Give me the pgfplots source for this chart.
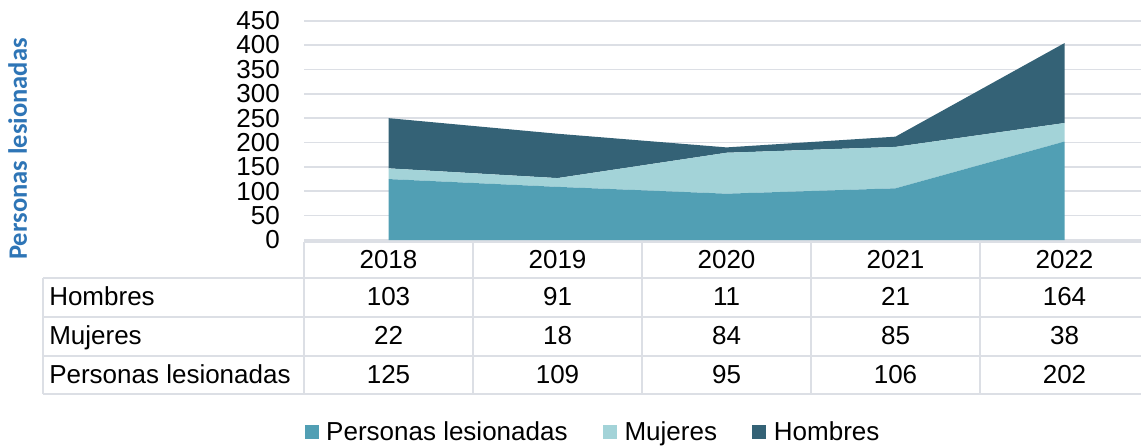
\documentclass[border=0pt]{standalone}
\usepackage{fontspec}
\setmainfont{Liberation Sans}
\newfontfamily\calfont{Carlito}
\usepackage{pgfplots}
\usepackage{pgfplotstable}
\pgfplotsset{compat=1.18}

\definecolor{cPer}{HTML}{519FB4}
\definecolor{cMuj}{HTML}{A3D3D8}
\definecolor{cHom}{HTML}{346276}
\definecolor{gridc}{HTML}{DCDFE5}
\definecolor{labc}{HTML}{2E75B6}
\newcommand\fs{\fontsize{19.5pt}{23pt}\selectfont}

% lesionados por año
\pgfplotstableread{
year hom muj per
2018 103 22 125
2019 91 18 109
2020 11 84 95
2021 21 85 106
2022 164 38 202
}\lesiones

\begin{document}
\begin{tikzpicture}
\useasboundingbox (0pt,0pt) rectangle (855.75pt,334.5pt);
\begin{axis}[
  at={(228pt,154.5pt)}, anchor=south west,
  scale only axis, width=633.75pt, height=164.5pt,
  xmin=-0.5, xmax=4.5, ymin=0, ymax=450,
  xtick=\empty, ytick={0,50,...,450},
  axis line style={draw=none}, major tick length=0pt,
  ymajorgrids, grid style={color=gridc, line width=1.3pt},
  /pgf/number format/assume math mode=true,
  yticklabel style={font=\fs, anchor=east, inner sep=0pt, xshift=-18pt},
  stack plots=y,
  legend style={at={(0.0006,-0.8755)}, anchor=west, draw=none, fill=none,
    legend columns=3, font=\fs, inner sep=0pt,
    nodes={inner sep=0pt},
    /tikz/every odd column/.append style={column sep=5.6pt},
    /tikz/every even column/.append style={column sep=26.6pt}},
  legend image code/.code={\fill[#1] (0pt,-5pt) rectangle (10.5pt,5pt);},
]
\addplot[fill=cPer, draw=none] table[x expr=\coordindex, y=per] {\lesiones} \closedcycle;
\addlegendentry{Personas lesionadas}
\addplot[fill=cMuj, draw=none] table[x expr=\coordindex, y=muj] {\lesiones} \closedcycle;
\addlegendentry{Mujeres}
\addplot[fill=cHom, draw=none] table[x expr=\coordindex, y=hom] {\lesiones} \closedcycle;
\addlegendentry{Hombres}
\end{axis}

\begin{scope}[x=0.75pt,y=0.75pt]
% eje vertical
\node[rotate=90, anchor=base, inner sep=0pt, text=labc, font={\calfont\bfseries\fontsize{19.9pt}{24pt}\selectfont}]
  at (27,297) {Personas lesionadas};

% tabla de datos
\tikzset{tline/.style={draw=gridc, line width=1.1pt}}
\draw[tline] (304,204) -- (1141,204);
\foreach \yy in {168,129,90,52} \draw[tline] (43,\yy) -- (1141,\yy);
\draw[tline] (43,168) -- (43,52);
\foreach \xx in {304,473,642,811,980} \draw[tline] (\xx,204) -- (\xx,52);

\node[anchor=base west, inner sep=0pt, font=\fs] at (49,140) {Hombres};
\node[anchor=base west, inner sep=0pt, font=\fs] at (49,101) {Mujeres};
\node[anchor=base west, inner sep=0pt, font=\fs] at (49,62) {Personas lesionadas};

\foreach \i in {0,...,4} {
  \pgfmathsetmacro\cx{388.5+169*\i}
  \pgfplotstablegetelem{\i}{year}\of\lesiones \let\vy\pgfplotsretval
  \pgfplotstablegetelem{\i}{hom}\of\lesiones \let\vh\pgfplotsretval
  \pgfplotstablegetelem{\i}{muj}\of\lesiones \let\vm\pgfplotsretval
  \pgfplotstablegetelem{\i}{per}\of\lesiones \let\vp\pgfplotsretval
  \node[anchor=base, inner sep=0pt, font=\fs] at (\cx,177.7) {\vy};
  \node[anchor=base, inner sep=0pt, font=\fs] at (\cx,140) {\vh};
  \node[anchor=base, inner sep=0pt, font=\fs] at (\cx,101) {\vm};
  \node[anchor=base, inner sep=0pt, font=\fs] at (\cx,62) {\vp};
}
\end{scope}
\end{tikzpicture}
\end{document}
